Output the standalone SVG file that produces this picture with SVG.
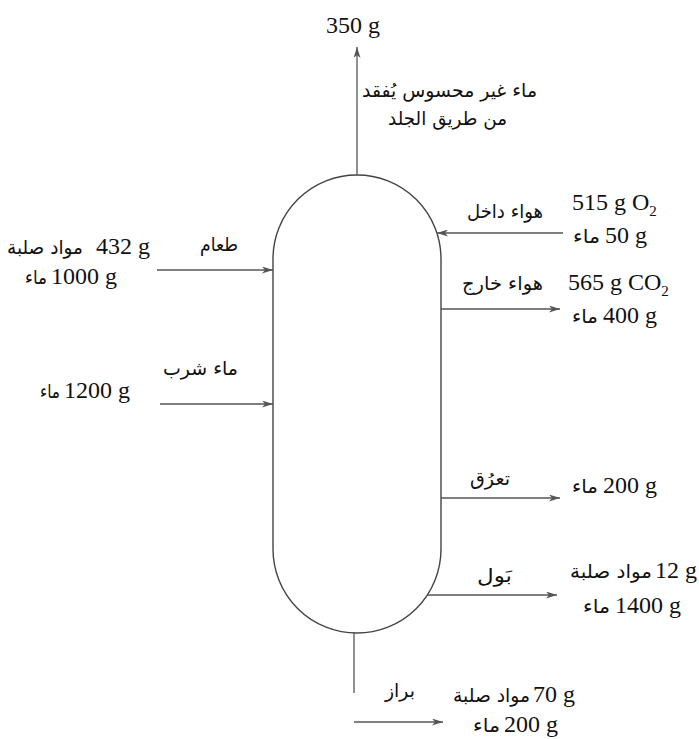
<svg xmlns="http://www.w3.org/2000/svg" width="699" height="739" viewBox="0 0 699 739">
<style>
.ln{fill:none;stroke:#555;stroke-width:1.3}
.body{fill:#fff;stroke:#444;stroke-width:1.4}
.num{font-family:"Liberation Serif","Times New Roman",serif;font-size:24px;fill:#111}
.ar{font-family:"DejaVu Sans","Noto Sans",sans-serif;font-size:19px;fill:#111}
.sub{font-size:15px}
</style>
<defs>
<marker id="ah" markerWidth="11" markerHeight="7" refX="11" refY="3.5" orient="auto" markerUnits="userSpaceOnUse">
<path d="M0,0 L11,3.5 L0,7 L3,3.5 Z" fill="#555"/>
</marker>
</defs>
<rect width="699" height="739" fill="#fff"/>
<g id="body">
<path class="body" d="M273,259 A84,84 0 0 1 441,259 L441,549 A84,84 0 0 1 273,549 Z"/>
</g>
<g id="connectors">
<line class="ln" x1="357" y1="175" x2="357" y2="47" marker-end="url(#ah)"/>
<line class="ln" x1="157" y1="270" x2="273" y2="270" marker-end="url(#ah)"/>
<line class="ln" x1="160" y1="404" x2="273" y2="404" marker-end="url(#ah)"/>
<line class="ln" x1="563" y1="233" x2="437" y2="233" marker-end="url(#ah)"/>
<line class="ln" x1="441" y1="309" x2="560" y2="309" marker-end="url(#ah)"/>
<line class="ln" x1="441" y1="498" x2="560" y2="498" marker-end="url(#ah)"/>
<line class="ln" x1="427" y1="595" x2="557" y2="595" marker-end="url(#ah)"/>
<line class="ln" x1="354" y1="633" x2="354" y2="693"/>
<line class="ln" x1="354" y1="722" x2="443" y2="722" marker-end="url(#ah)"/>
</g>
<g id="skin">
<text class="num" x="326" y="33">350 g</text>
<text class="ar" x="362" y="97" textLength="175" lengthAdjust="spacingAndGlyphs">ماء غير محسوس يُفقد</text>
<text class="ar" x="388" y="125" textLength="119" lengthAdjust="spacingAndGlyphs">من طريق الجلد</text>
</g>
<g id="food">
<text class="ar" x="200" y="251" textLength="38" lengthAdjust="spacingAndGlyphs">طعام</text>
<text class="ar" x="7" y="254" textLength="76" lengthAdjust="spacingAndGlyphs">مواد صلبة</text>
<text class="num" x="96" y="254">432 g</text>
<text class="ar" x="25" y="284" textLength="22" lengthAdjust="spacingAndGlyphs">ماء</text>
<text class="num" x="51" y="284">1000 g</text>
</g>
<g id="drink">
<text class="ar" x="163" y="375" textLength="75" lengthAdjust="spacingAndGlyphs">ماء شرب</text>
<text class="ar" x="40" y="398" textLength="20" lengthAdjust="spacingAndGlyphs">ماء</text>
<text class="num" x="64" y="398">1200 g</text>
</g>
<g id="air-in">
<text class="ar" x="467" y="218" textLength="76" lengthAdjust="spacingAndGlyphs">هواء داخل</text>
<text class="num" x="572" y="210">515 g O<tspan class="sub" dy="6">2</tspan></text>
<text class="ar" x="573" y="243" textLength="27" lengthAdjust="spacingAndGlyphs">ماء</text>
<text class="num" x="605" y="243">50 g</text>
</g>
<g id="air-out">
<text class="ar" x="462" y="290" textLength="81" lengthAdjust="spacingAndGlyphs">هواء خارج</text>
<text class="num" x="568" y="290">565 g CO<tspan class="sub" dy="6">2</tspan></text>
<text class="ar" x="572" y="323" textLength="26" lengthAdjust="spacingAndGlyphs">ماء</text>
<text class="num" x="603" y="323">400 g</text>
</g>
<g id="sweat">
<text class="ar" x="470" y="485" textLength="40" lengthAdjust="spacingAndGlyphs">تعرُق</text>
<text class="ar" x="572" y="493" textLength="26" lengthAdjust="spacingAndGlyphs">ماء</text>
<text class="num" x="603" y="493">200 g</text>
</g>
<g id="urine">
<text class="ar" x="477" y="582" textLength="35" lengthAdjust="spacingAndGlyphs">بَول</text>
<text class="ar" x="570" y="578" textLength="82" lengthAdjust="spacingAndGlyphs">مواد صلبة</text>
<text class="num" x="655" y="578">12 g</text>
<text class="ar" x="583" y="613" textLength="27" lengthAdjust="spacingAndGlyphs">ماء</text>
<text class="num" x="615" y="613">1400 g</text>
</g>
<g id="feces">
<text class="ar" x="385" y="697" textLength="30" lengthAdjust="spacingAndGlyphs">براز</text>
<text class="ar" x="453" y="702" textLength="77" lengthAdjust="spacingAndGlyphs">مواد صلبة</text>
<text class="num" x="533" y="702">70 g</text>
<text class="ar" x="473" y="732" textLength="27" lengthAdjust="spacingAndGlyphs">ماء</text>
<text class="num" x="504" y="732">200 g</text>
</g>
</svg>
